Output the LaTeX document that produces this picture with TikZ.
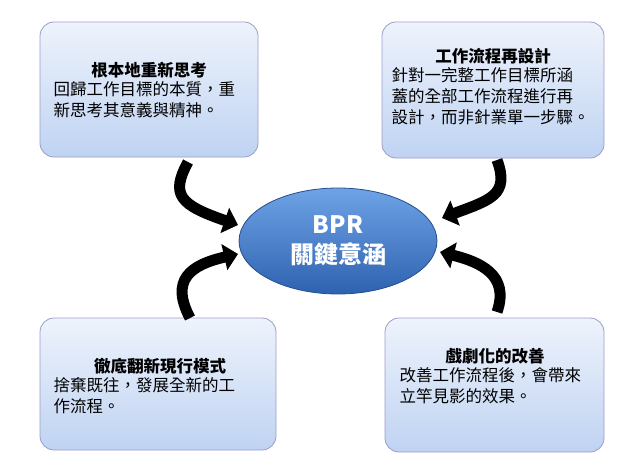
\documentclass[tikz,border=0pt]{standalone}
\usepackage{fontspec}
\setmainfont{Noto Sans CJK TC}
\usetikzlibrary{arrows.meta,shapes.geometric}
\definecolor{boxtop}{HTML}{EEF3FC}
\definecolor{boxbot}{HTML}{BFD3F2}
\definecolor{eltop}{HTML}{6FA3E6}
\definecolor{elbot}{HTML}{2E62B0}
\begin{document}
\begin{tikzpicture}[x=1pt,y=-1pt,
 box/.style={draw=blue!30!gray!60,line width=0.8pt,rounded corners=14pt,top color=boxtop,bottom color=boxbot},
 txt/.style={font=\fontsize{16.5}{21}\selectfont,align=left,anchor=north west},
 ttl/.style={font=\fontsize{16.5}{21}\selectfont\bfseries},
 arr/.style={line width=11pt,-{Triangle[length=14pt,width=26pt]},black}]
\useasboundingbox (0,0) rectangle (640,471);
\path[box] (40,22) rectangle (258,157);
\path[box] (382,22) rectangle (604,158);
\path[box] (40,318) rectangle (276,450);
\path[box] (385,318) rectangle (604,452);
\node[ttl] (t1) at (149,70) {根本地重新思考};
\node[txt] (b1) at (50,78) {回歸工作目標的本質，重\\新思考其意義與精神。};
\node[ttl] (t2) at (493,56) {工作流程再設計};
\node[txt] (b2) at (388,64) {針對一完整工作目標所涵\\蓋的全部工作流程進行再\\設計，而非針業單一步驟。};
\node[ttl] (t3) at (160,366) {徹底翻新現行模式};
\node[txt] (b3) at (50,374) {捨棄既往，發展全新的工\\作流程。};
\node[ttl] (t4) at (495,356) {戲劇化的改善};
\node[txt] (b4) at (396,364) {改善工作流程後，會帶來\\立竿見影的效果。};
\node[ellipse,minimum width=198pt,minimum height=106pt,draw=elbot!80!black,line width=0.8pt,
  top color=eltop,bottom color=elbot,text=white,align=center,
  font=\fontsize{24}{30}\selectfont\bfseries] (c) at (338,241) {BPR\\關鍵意涵};
\coordinate (a1) at (188,162); \coordinate (e1) at (238,225);
\coordinate (a2) at (497,160); \coordinate (e2) at (442,218);
\coordinate (a3) at (190,318); \coordinate (e3) at (238,254);
\coordinate (a4) at (497,312); \coordinate (e4) at (440,252);
\draw[arr] (a1) .. controls (170,195) and (180,205) .. (e1);
\draw[arr] (a2) .. controls (510,195) and (490,200) .. (e2);
\draw[arr] (a3) .. controls (170,280) and (190,265) .. (e3);
\draw[arr] (a4) .. controls (510,275) and (480,262) .. (e4);
\end{tikzpicture}
\end{document}
